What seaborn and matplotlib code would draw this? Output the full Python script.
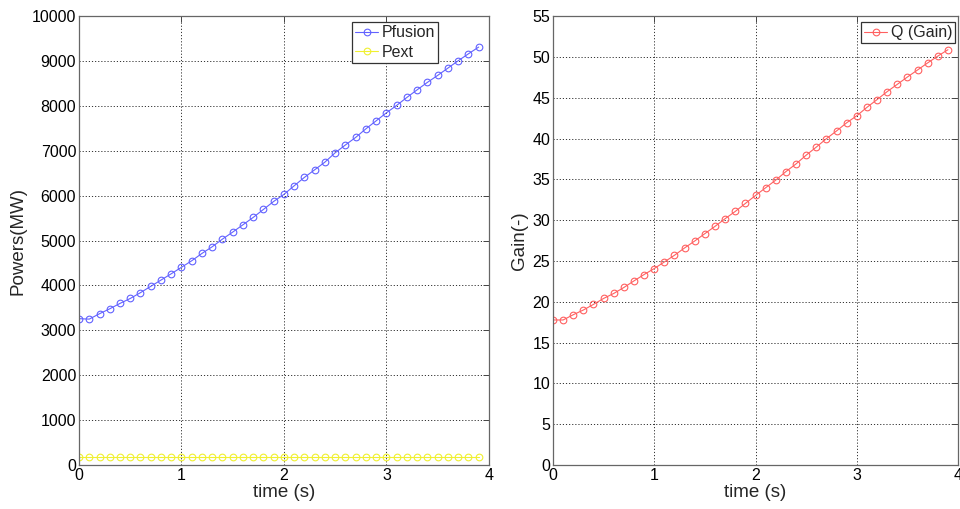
import numpy as np
import pandas as pd
import matplotlib
matplotlib.use('Agg')
import matplotlib.pyplot as plt
import seaborn as sns

time_s = [round(0.1 * i, 1) for i in range(40)]

pfusion = [3260, 3250, 3370, 3480, 3600, 3710, 3840, 3980, 4120, 4260,
           4405, 4550, 4714, 4862, 5033, 5189, 5352, 5516, 5694, 5872,
           6029, 6221, 6408, 6577, 6748, 6956, 7130, 7298, 7490, 7668,
           7846, 8011, 8189, 8359, 8524, 8679, 8842, 9005, 9160, 9310]

pext = [180] * 40

gain = [17.77, 17.77, 18.41, 18.99, 19.68, 20.41, 21.02, 21.75, 22.56, 23.34,
        24.07, 24.88, 25.70, 26.60, 27.45, 28.35, 29.24, 30.18, 31.07, 32.05,
        33.02, 33.97, 34.91, 35.95, 36.89, 37.96, 38.95, 39.98, 40.93, 41.93,
        42.79, 43.82, 44.77, 45.75, 46.64, 47.54, 48.40, 49.27, 50.10, 50.88]

df = pd.DataFrame({'time': time_s, 'Pfusion': pfusion, 'Pext': pext, 'Q': gain})

sns.set_style('white')
plt.rcParams['font.family'] = ['Liberation Sans', 'DejaVu Sans']

fig = plt.figure(figsize=(9.6, 5.09), dpi=100)
ax1 = fig.add_axes([0.0823, 0.0864, 0.427, 0.882])
ax2 = fig.add_axes([0.576, 0.0864, 0.422, 0.882])

mk = dict(marker='o', markersize=4.8, markerfacecolor='none', linewidth=0.8,
          markeredgewidth=0.8)

sns.lineplot(data=df, x='time', y='Pfusion', ax=ax1, color='#6262ff',
             label='Pfusion', markeredgecolor='#6262ff', **mk)
sns.lineplot(data=df, x='time', y='Pext', ax=ax1, color='#f0f030',
             label='Pext', markeredgecolor='#f0f030', **mk)
sns.lineplot(data=df, x='time', y='Q', ax=ax2, color='#ff6060',
             label='Q (Gain)', markeredgecolor='#ff6060', **mk)

ax1.set_ylim(0, 10000)
ax1.set_yticks(np.arange(0, 10001, 1000))
ax2.set_ylim(0, 55)
ax2.set_yticks(np.arange(0, 56, 5))
ax1.set_ylabel('Powers(MW)', fontsize=13.5, labelpad=4)
ax2.set_ylabel('Gain(-)', fontsize=13.5, labelpad=3)

for ax in (ax1, ax2):
    ax.set_xlim(0, 4)
    ax.set_xticks([0, 1, 2, 3, 4])
    ax.set_xlabel('time (s)', fontsize=13.5, labelpad=1)
    ax.grid(True, linestyle=(0, (1.2, 2)), color='#333333', linewidth=0.7)
    ax.tick_params(direction='in', length=4, width=0.7, labelsize=11.5,
                   top=True, right=True, colors='#444444', labelcolor='black',
                   pad=2)
    for sp in ax.spines.values():
        sp.set_color('#666666')
        sp.set_linewidth(0.9)

anchors = {ax1: (0.876, 0.987), ax2: (0.993, 0.987)}
for ax in (ax1, ax2):
    leg = ax.legend(loc='upper right', bbox_to_anchor=anchors[ax],
                    fontsize=11.5, frameon=True, fancybox=False,
                    edgecolor='#333333', framealpha=1, borderpad=0.2,
                    handlelength=1.45, handletextpad=0.2, labelspacing=0.3,
                    borderaxespad=0.0)
    leg.get_frame().set_linewidth(0.9)

fig.savefig('out.png', dpi=100)
